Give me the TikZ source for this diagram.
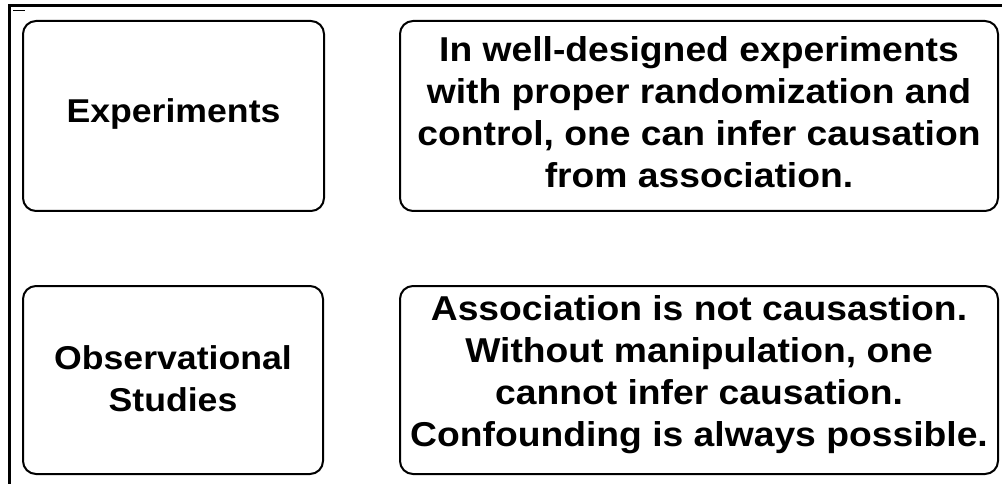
\documentclass[tikz,border=0pt]{standalone}
\usepackage{fontspec}
\newfontfamily\boxfont[FakeStretch=1.08]{Liberation Sans}
\tikzset{
  frameline/.style={line width=3pt, line cap=rect},
  cardbox/.style={draw, line width=2pt, rounded corners=13pt, inner sep=0pt},
  cardtext/.style={inner sep=0pt, align=center, text=black},
  leftfont/.style={font=\boxfont\bfseries\fontsize{33}{42}\selectfont},
  rightfont/.style={font=\boxfont\bfseries\fontsize{34.5}{42}\selectfont},
}
\begin{document}
\begin{tikzpicture}[x=1pt,y=-1pt]
\useasboundingbox[fill=white] (0,0) rectangle (1002,484);
% frame
\coordinate (tl) at (9.5,6);
\coordinate (tr) at (1002,6);
\coordinate (bl) at (9.5,484);
\draw[frameline] (tr) -- (tl) -- (bl);
\coordinate (m1) at (13,10.5);
\coordinate (m2) at (25,10.5);
\draw[line width=1.5pt] (m1) -- (m2);
% boxes
\node[cardbox, minimum width=301pt, minimum height=190pt] (exp) at (173.5,116) {};
\node[cardbox, minimum width=598pt, minimum height=190pt] (expt) at (699,116) {};
\node[cardbox, minimum width=300pt, minimum height=188pt] (obs) at (173,380) {};
\node[cardbox, minimum width=598pt, minimum height=188pt] (obst) at (699,380) {};
% texts
\node[cardtext, leftfont] (exp-t) at ([yshift=2pt]exp.center) {Experiments};
\node[cardtext, rightfont] (expt-t) at ([yshift=4pt]expt.center)
  {In well-designed experiments\\with proper randomization and\\control, one can infer causation\\from association.};
\node[cardtext, leftfont] (obs-t) at ([yshift=1pt]obs.center) {Observational\\Studies};
\node[cardtext, rightfont] (obst-t) at ([yshift=5pt]obst.center)
  {Association is not causastion.\\Without manipulation, one\\cannot infer causation.\\Confounding is always possible.};
\end{tikzpicture}
\end{document}
